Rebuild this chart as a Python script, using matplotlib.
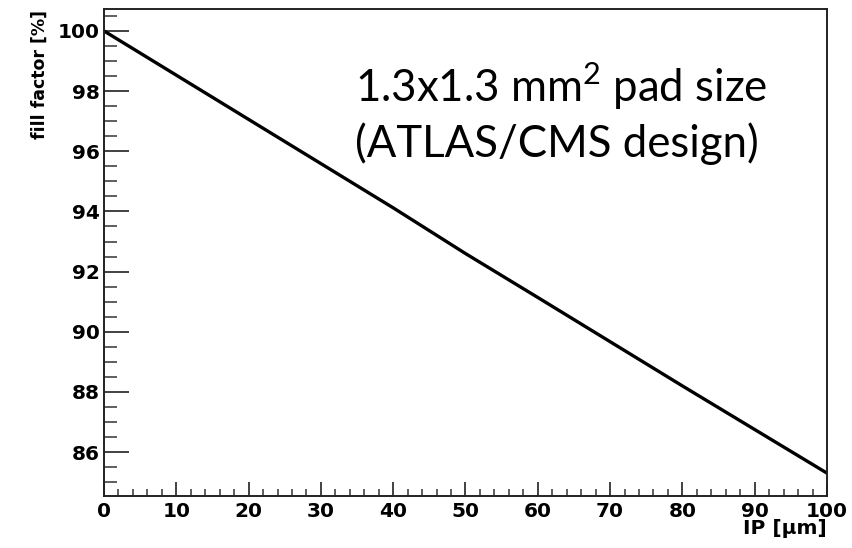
import numpy as np
import matplotlib
matplotlib.use("Agg")
import matplotlib.pyplot as plt
from matplotlib.ticker import MultipleLocator

# values
ip_um = [0, 10, 20, 30, 40, 50, 60, 70, 80, 90, 100]
fill_factor = [100.0, 98.53, 97.06, 95.59, 94.12, 92.60, 91.14, 89.67, 88.20, 86.75, 85.30]
y_ticks = [86, 88, 90, 92, 94, 96, 98, 100]
x_ticks = [0, 10, 20, 30, 40, 50, 60, 70, 80, 90, 100]

plt.rcParams["mathtext.fontset"] = "custom"
plt.rcParams["mathtext.rm"] = "Lato"

fig = plt.figure(figsize=(8.53, 5.48), dpi=100)
ax = fig.add_axes([0.1219, 0.0949, 0.8476, 0.8887])

ax.plot(ip_um, fill_factor, color="black", lw=2.4, solid_capstyle="butt")

ax.set_xlim(0, 100)
ax.set_ylim(84.54, 100.73)
ax.set_xticks(x_ticks)
ax.set_yticks(y_ticks)
ax.xaxis.set_minor_locator(MultipleLocator(2))
ax.yaxis.set_minor_locator(MultipleLocator(0.5))

for s in ax.spines.values():
    s.set_linewidth(1.4)
    s.set_color("#222222")

ax.tick_params(axis="x", which="major", direction="in", length=9.8, width=1.3,
               pad=4, labelsize=14.5, color="#333333")
ax.tick_params(axis="x", which="minor", direction="in", length=5, width=1.1, color="#333333")
ax.tick_params(axis="y", which="major", direction="in", length=18, width=1.3,
               pad=3, labelsize=14.5, color="#333333")
ax.tick_params(axis="y", which="minor", direction="in", length=9.4, width=1.1, color="#333333")
for lab in ax.get_xticklabels() + ax.get_yticklabels():
    lab.set_fontweight("bold")
    lab.set_family("DejaVu Sans")

ax.text(1.0, -0.047, "IP [μm]", transform=ax.transAxes, ha="right", va="top",
        fontsize=14.5, fontweight="bold", family="DejaVu Sans")
ax.text(-0.0885, 0.998, "fill factor [%]", transform=ax.transAxes, rotation=90,
        ha="center", va="top", fontsize=12.5, fontweight="bold", family="DejaVu Sans")

ax.text(0.347, 0.809, "1.3x1.3 mm$^2$ pad size", transform=ax.transAxes,
        ha="left", va="baseline", fontsize=31.5, family="Lato")
ax.text(0.347, 0.696, "(ATLAS/CMS design)", transform=ax.transAxes,
        ha="left", va="baseline", fontsize=31.5, family="Lato")

fig.savefig("out.png", dpi=100, facecolor="white")
